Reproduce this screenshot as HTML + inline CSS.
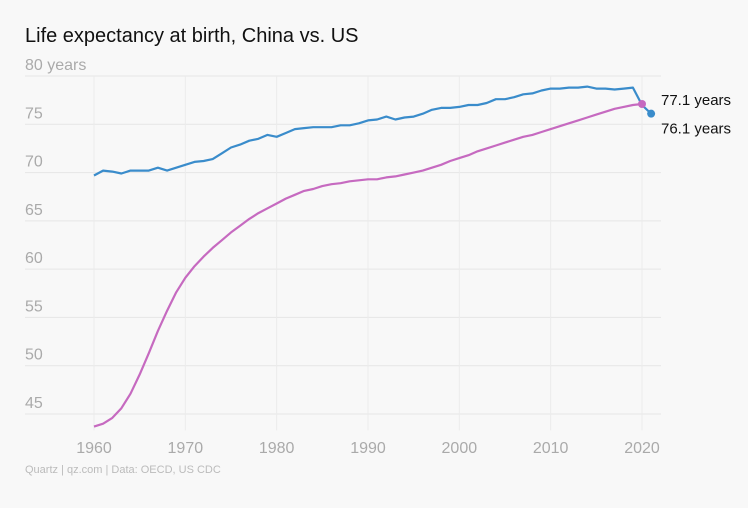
<!DOCTYPE html>
<html><head><meta charset="utf-8"><style>
body{margin:0;background:#f8f8f8;width:748px;height:503px;overflow:hidden;font-family:"Liberation Sans",sans-serif}
</style></head><body>
<svg width="748" height="503" id="c">
<rect width="748" height="503" fill="#f8f8f8"/>
<text x="25" y="42" font-size="20" fill="#111">Life expectancy at birth, China vs. US</text>
<text x="25" y="473" font-size="11" fill="#bbb">Quartz | qz.com | Data: OECD, US CDC</text>
</svg>
<script>
const years=[];for(let y=1960;y<=2021;y++)years.push(y);
const usValues=[69.7,70.2,70.1,69.9,70.2,70.2,70.2,70.5,70.2,70.5,70.8,71.1,71.2,71.4,72.0,72.6,72.9,73.3,73.5,73.9,73.7,74.1,74.5,74.6,74.7,74.7,74.7,74.9,74.9,75.1,75.4,75.5,75.8,75.5,75.7,75.8,76.1,76.5,76.7,76.7,76.8,77.0,77.0,77.2,77.6,77.6,77.8,78.1,78.2,78.5,78.7,78.7,78.8,78.8,78.9,78.7,78.7,78.6,78.7,78.8,77.0,76.1];
const chinaValues=[43.7,44.0,44.6,45.6,47.1,49.1,51.3,53.6,55.7,57.6,59.1,60.3,61.3,62.2,63.0,63.8,64.5,65.2,65.8,66.3,66.8,67.3,67.7,68.1,68.3,68.6,68.8,68.9,69.1,69.2,69.3,69.3,69.5,69.6,69.8,70.0,70.2,70.5,70.8,71.2,71.5,71.8,72.2,72.5,72.8,73.1,73.4,73.7,73.9,74.2,74.5,74.8,75.1,75.4,75.7,76.0,76.3,76.6,76.8,77.0,77.1];
const yTicks=[45,50,55,60,65,70,75,80];
const xTicks=[1960,1970,1980,1990,2000,2010,2020];
const NS="http://www.w3.org/2000/svg",svg=document.getElementById('c');
const X=v=>94+(v-1960)*(642-94)/60;
const Y=v=>76+(80-v)*(414-76)/35;
function mk(t,a,p){const e=document.createElementNS(NS,t);for(const k in a)e.setAttribute(k,a[k]);(p||svg).appendChild(e);return e;}
yTicks.forEach(t=>{
 const l=mk('line',{x1:25,x2:661,y1:Y(t),y2:Y(t),stroke:'#e6e6e6','stroke-width':1});
 
 
 const tx=mk('text',{x:25,y:Y(t)-6,'font-size':16,fill:'#aaa'});tx.textContent=t===80?'80 years':t;
 
 
});
xTicks.forEach(t=>{
 const l=mk('line',{x1:X(t),x2:X(t),y1:Y(80),y2:Y(43.3),stroke:'#ebebeb','stroke-width':1});
 
 
 const tx=mk('text',{x:X(t),y:453,'font-size':16,fill:'#aaa','text-anchor':'middle'});tx.textContent=t;
 
 
});
function line(vals,col,name){
 const d=vals.map((v,i)=>(i?'L':'M')+X(years[i]).toFixed(1)+','+Y(v).toFixed(1)).join('');
 const p=mk('path',{d:d,fill:'none',stroke:col,'stroke-width':2.2,'stroke-linejoin':'round'});
 
 
 const n=vals.length-1;
 const c=mk('circle',{cx:X(years[n]),cy:Y(vals[n]),r:4,fill:col});
 
 
}
line(usValues,'#3a8ccb','us');
line(chinaValues,'#c66ac0','china');
const l1=mk('text',{x:661,y:Y(chinaValues[chinaValues.length-1])+1,'font-size':15,fill:'#111'});l1.textContent=chinaValues[chinaValues.length-1]+' years';


const l2=mk('text',{x:661,y:Y(usValues[usValues.length-1])+20,'font-size':15,fill:'#111'});l2.textContent=usValues[usValues.length-1]+' years';


</script>
</body></html>
